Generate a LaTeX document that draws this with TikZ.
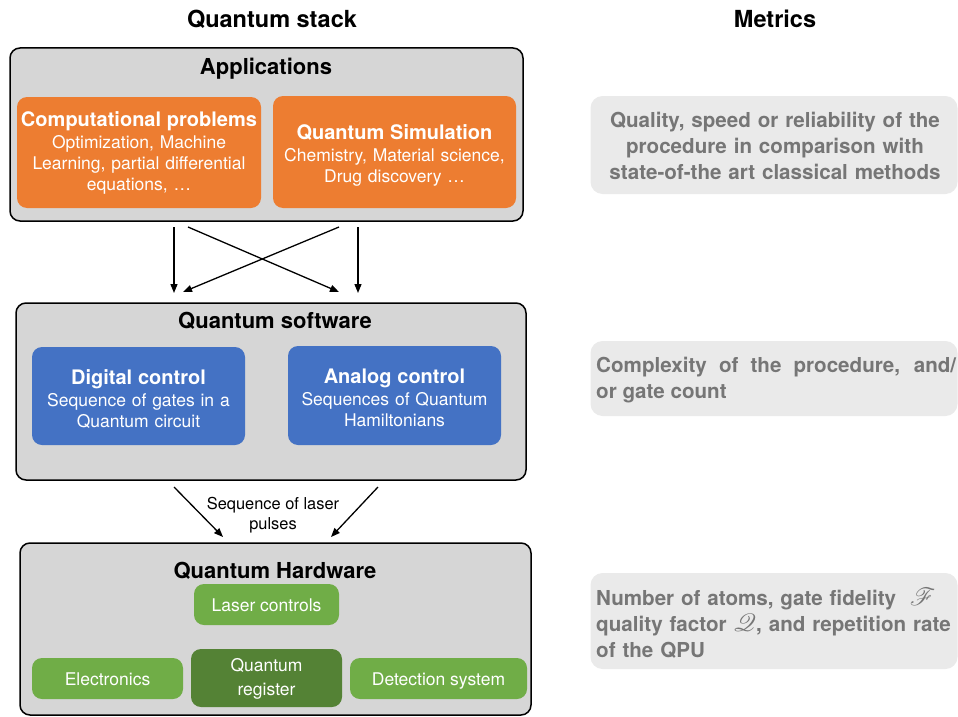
\documentclass[tikz,border=0pt]{standalone}
\usepackage{fontspec}
\usepackage{mathrsfs}
\setmainfont{TeX Gyre Heros}
\usetikzlibrary{arrows.meta}
\definecolor{orangeC}{HTML}{ED7D31}
\definecolor{blueC}{HTML}{4472C4}
\definecolor{greenC}{HTML}{70AD47}
\definecolor{dgreenC}{HTML}{548235}
\definecolor{panelC}{HTML}{D6D6D6}
\definecolor{metricC}{HTML}{EAEAEA}
\definecolor{metricT}{HTML}{767676}
\newcommand{\coltitle}{\fontsize{23.5}{26}\selectfont\bfseries}
\newcommand{\sectitle}{\fontsize{22}{25}\selectfont\bfseries}
\newcommand{\hdr}{\fontsize{20}{23}\selectfont\bfseries}
\newcommand{\subt}{\fontsize{17.5}{21}\selectfont}
\newcommand{\mtxt}{\fontsize{20.6}{26}\selectfont\bfseries}
\newcommand{\bigscr}[1]{{\fontsize{24}{26}\selectfont$\mathscr{#1}$}}
\tikzset{
  panel/.style={draw=black, line width=1.5pt, fill=panelC, rounded corners=10pt, inner sep=0pt},
  inbox/.style={rounded corners=10pt, inner sep=0pt},
  intext/.style={text=white, align=center, inner sep=0pt, font=\subt},
  oneline/.style={text height=16pt, text depth=2.4pt},
  metric/.style={fill=metricC, rounded corners=12pt, inner sep=0pt},
  mtext/.style={text=metricT, inner sep=0pt, font=\mtxt},
  arr/.style={line width=1.3pt, -{Triangle[length=9pt,width=7pt]}},
}
\begin{document}
\begin{tikzpicture}[x=1pt,y=-1pt]
\useasboundingbox (0,0) rectangle (958,717);
% column titles
\node[font=\coltitle] (tstack) at (272,19) {Quantum stack};
\node[font=\coltitle] (tmetric) at (775,19) {Metrics};
% panels
\node[panel, minimum width=513pt, minimum height=173pt] (app) at (266.5,134.5) {};
\node[panel, minimum width=510pt, minimum height=177pt] (sw) at (271,391.5) {};
\node[panel, minimum width=511pt, minimum height=172pt] (hw) at (275.5,629) {};
\node[font=\sectitle] (tapp) at (266,69) {Applications};
\node[font=\sectitle] (tsw) at (275,321) {Quantum software};
\node[font=\sectitle] (thw) at (275,570.5) {Quantum Hardware};
% application boxes
\node[inbox, fill=orangeC, minimum width=244pt, minimum height=111pt] (comp) at (139,152.5) {};
\node[intext, text width=240pt] (compt) at (139,152.5)
  {{\hdr Computational problems}\\[1pt]Optimization, Machine\\Learning, partial differential\\equations, \dots};
\node[inbox, fill=orangeC, minimum width=243pt, minimum height=112pt] (qsim) at (394.5,152) {};
\node[intext, text width=240pt] (qsimt) at (394.5,155)
  {{\hdr Quantum Simulation}\\[1pt]Chemistry, Material science,\\Drug discovery \dots};
% software boxes
\node[inbox, fill=blueC, minimum width=213pt, minimum height=98pt] (dig) at (138.5,396) {};
\node[intext, text width=210pt] (digt) at (138.5,399)
  {{\hdr Digital control}\\[1pt]Sequence of gates in a\\Quantum circuit};
\node[inbox, fill=blueC, minimum width=213pt, minimum height=99pt] (ana) at (394.5,395.5) {};
\node[intext, text width=210pt] (anat) at (394.5,397.5)
  {{\hdr Analog control}\\[1pt]Sequences of Quantum\\Hamiltonians};
% hardware boxes
\node[inbox, fill=greenC, minimum width=145pt, minimum height=41pt, intext, oneline] (laser) at (266.5,604.5) {Laser controls};
\node[inbox, fill=greenC, minimum width=151pt, minimum height=41pt, intext, oneline] (elec) at (107.5,678.5) {Electronics};
\node[inbox, fill=dgreenC, minimum width=151pt, minimum height=58pt] (qreg) at (266.5,678) {};
\node[intext, text width=148pt, font=\fontsize{17.5}{24}\selectfont] (qregt) at (266.5,678.5) {Quantum\\register};
\node[inbox, fill=greenC, minimum width=177pt, minimum height=41pt, intext, oneline] (det) at (438.5,678.5) {Detection system};
% metrics
\node[metric, minimum width=367pt, minimum height=98pt] (m1) at (774,145) {};
\node[mtext, text width=362pt, align=center] (m1t) at (775,145.5)
  {Quality, speed or reliability of the\\procedure in comparison with\\state-of-the art classical methods};
\node[metric, minimum width=367pt, minimum height=75pt] (m2) at (774,378.5) {};
\node[mtext, text width=360pt, align=justify, anchor=west] (m2t) at (596,380.5)
  {Complexity of the procedure, and/\linebreak or gate count\par};
\node[metric, minimum width=367pt, minimum height=96pt] (m3) at (774,621) {};
\node[mtext, text width=364pt, align=left, anchor=west] (m3t) at (596,623)
  {Number of atoms, gate fidelity \ \bigscr{F}\\quality factor \bigscr{Q}, and repetition rate\\of the QPU};
% connectors between app and sw
\coordinate (a1) at (174,227); \coordinate (b1) at (174,293);
\coordinate (a2) at (358,227); \coordinate (b2) at (358,293);
\coordinate (a3) at (188,227); \coordinate (b3) at (339,292);
\coordinate (a4) at (339,227); \coordinate (b4) at (183,292);
\draw[arr] (a1) -- (b1);
\draw[arr] (a2) -- (b2);
\draw[arr] (a3) -- (b3);
\draw[arr] (a4) -- (b4);
% connectors between sw and hw
\coordinate (c1) at (174,487); \coordinate (d1) at (223,537);
\coordinate (c2) at (378,487); \coordinate (d2) at (331,537);
\draw[arr] (c1) -- (d1);
\draw[arr] (c2) -- (d2);
\node[font=\fontsize{16.4}{20}\selectfont, align=center] (lpulse) at (273,515) {Sequence of laser\\pulses};
\end{tikzpicture}
\end{document}
